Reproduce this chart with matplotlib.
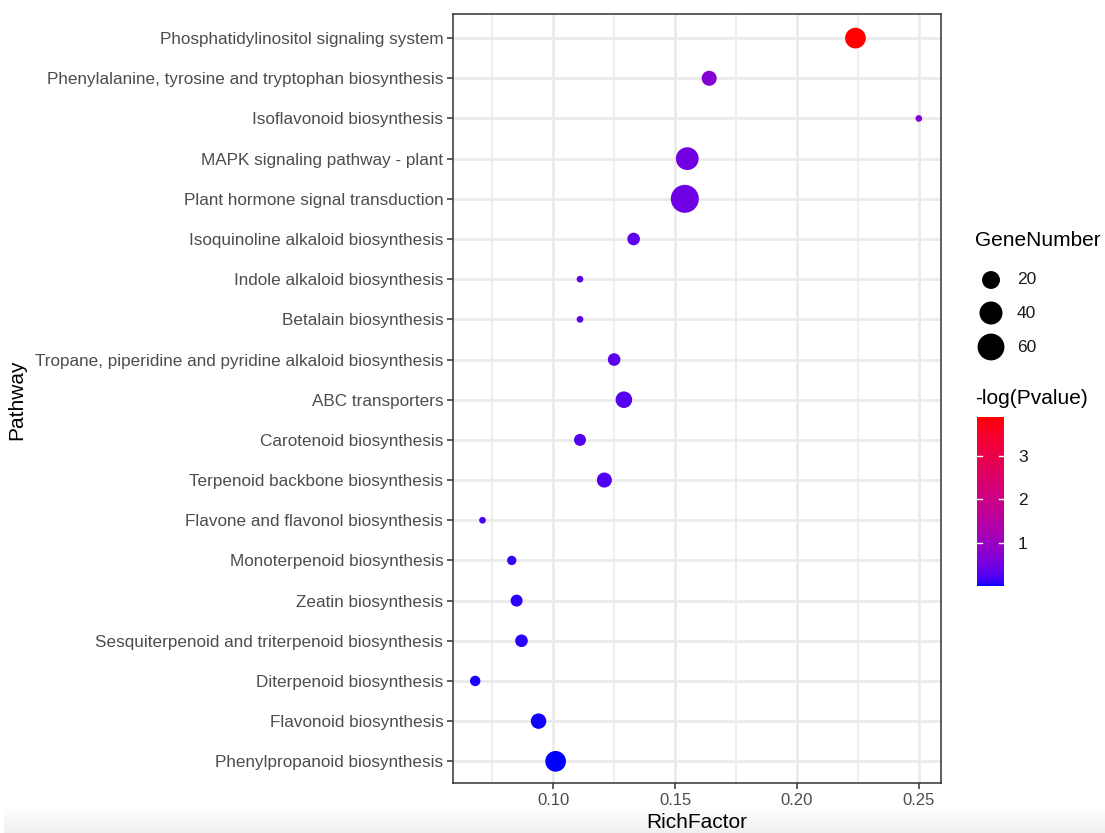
import numpy as np
import matplotlib
matplotlib.use("Agg")
import matplotlib.pyplot as plt
from matplotlib.colors import ListedColormap, Normalize
from matplotlib.cm import ScalarMappable

plt.rcParams['font.family'] = ['Liberation Sans', 'DejaVu Sans']

pathways = [
    "Phosphatidylinositol signaling system",
    "Phenylalanine, tyrosine and tryptophan biosynthesis",
    "Isoflavonoid biosynthesis",
    "MAPK signaling pathway - plant",
    "Plant hormone signal transduction",
    "Isoquinoline alkaloid biosynthesis",
    "Indole alkaloid biosynthesis",
    "Betalain biosynthesis",
    "Tropane, piperidine and pyridine alkaloid biosynthesis",
    "ABC transporters",
    "Carotenoid biosynthesis",
    "Terpenoid backbone biosynthesis",
    "Flavone and flavonol biosynthesis",
    "Monoterpenoid biosynthesis",
    "Zeatin biosynthesis",
    "Sesquiterpenoid and triterpenoid biosynthesis",
    "Diterpenoid biosynthesis",
    "Flavonoid biosynthesis",
    "Phenylpropanoid biosynthesis",
]
rich_factor = [0.224, 0.164, 0.250, 0.155, 0.154, 0.133, 0.111, 0.111, 0.125, 0.129,
               0.111, 0.121, 0.071, 0.083, 0.085, 0.087, 0.068, 0.094, 0.101]
gene_number = [30, 12, 2, 39, 67, 7, 2, 2, 7, 16, 6, 12, 2, 3, 6, 7, 4, 13, 30]
neg_log_p = [3.9, 0.70, 0.68, 0.47, 0.45, 0.35, 0.33, 0.33, 0.31, 0.27,
             0.27, 0.22, 0.16, 0.12, 0.09, 0.07, 0.05, 0.03, 0.005]
size_breaks = [20, 40, 60]
color_ticks = [1, 2, 3]
x_ticks = [0.10, 0.15, 0.20, 0.25]
x_minor = [0.075, 0.125, 0.175, 0.225]

DPI = 100
W, H = 1105, 833

# ---- Lab interpolation (like ggplot2 scale_colour_gradient) ----
def srgb_to_lab(rgb):
    rgb = np.asarray(rgb, float)
    lin = np.where(rgb <= 0.04045, rgb / 12.92, ((rgb + 0.055) / 1.055) ** 2.4)
    M = np.array([[0.4124, 0.3576, 0.1805], [0.2126, 0.7152, 0.0722], [0.0193, 0.1192, 0.9505]])
    xyz = M @ lin
    wp = np.array([0.95047, 1.0, 1.08883])
    t = xyz / wp
    f = np.where(t > (6/29)**3, np.cbrt(t), t / (3*(6/29)**2) + 4/29)
    return np.array([116*f[1]-16, 500*(f[0]-f[1]), 200*(f[1]-f[2])])

def lab_to_srgb(lab):
    L, a, b = lab
    fy = (L + 16) / 116
    fx = fy + a / 500
    fz = fy - b / 200
    def finv(f):
        return np.where(f > 6/29, f**3, 3*(6/29)**2*(f - 4/29))
    wp = np.array([0.95047, 1.0, 1.08883])
    xyz = np.array([finv(fx), finv(fy), finv(fz)]) * wp
    Minv = np.array([[3.2406, -1.5372, -0.4986], [-0.9689, 1.8758, 0.0415], [0.0557, -0.2040, 1.0570]])
    lin = Minv @ xyz
    lin = np.clip(lin, 0, 1)
    rgb = np.where(lin <= 0.0031308, 12.92*lin, 1.055*lin**(1/2.4) - 0.055)
    return np.clip(rgb, 0, 1)

lab_lo = srgb_to_lab([0, 0, 1])
lab_hi = srgb_to_lab([1, 0, 0])
cols = [lab_to_srgb(lab_lo + (lab_hi - lab_lo) * t) for t in np.linspace(0, 1, 256)]
cmap = ListedColormap(cols)
norm = Normalize(vmin=min(neg_log_p), vmax=max(neg_log_p))

# ---- size scale (area) ----
gmin, gmax = min(gene_number), max(gene_number)
def size_pts2(g):
    g = np.asarray(g, float)
    d_px = 6.7 + 21.3 * np.sqrt((g - gmin) / (gmax - gmin))
    d_pt = d_px * 72 / DPI
    return d_pt ** 2

fig = plt.figure(figsize=(W/DPI, H/DPI), dpi=DPI)

# light gradient band at bottom (screenshot artifact)
bg = fig.add_axes([4/W, 0, 1 - 4/W, 28/H], zorder=-10)
grad = np.linspace(0.94, 1.0, 50).reshape(-1, 1)
bg.imshow(np.dstack([grad, grad, grad]), aspect='auto', extent=[0, 1, 0, 1], origin='lower')
bg.axis('off')

ax = fig.add_axes([453/W, 1 - 783/H, (941-453)/W, (783-14)/H])
n = len(pathways)
ypos = np.arange(n)[::-1]
ax.scatter(rich_factor, ypos, s=size_pts2(gene_number), c=neg_log_p, cmap=cmap, norm=norm,
           linewidths=0, zorder=3)
ax.set_xlim(0.0589, 0.2591)
ax.set_ylim(-0.54, n - 0.4)
ax.set_yticks(ypos)
ax.set_yticklabels(pathways)
ax.set_xticks(x_ticks)
ax.set_xticklabels([f"{v:.2f}" for v in x_ticks])
ax.set_xticks(x_minor, minor=True)
ax.tick_params(axis='both', which='major', length=4, width=1.1, color='#333333',
               labelcolor='#4D4D4D', pad=3)
ax.tick_params(axis='y', which='major', labelsize=12.3)
ax.tick_params(axis='x', which='major', labelsize=12)
ax.tick_params(axis='x', which='minor', length=0)
ax.grid(which='major', color='#EBEBEB', linewidth=2.0, zorder=0)
ax.grid(which='minor', axis='x', color='#EBEBEB', linewidth=1.2, zorder=0)
ax.set_axisbelow(True)
for sp in ax.spines.values():
    sp.set_color('#333333')
    sp.set_linewidth(1.1)
ax.set_xlabel("RichFactor", fontsize=15, labelpad=4)
ax.set_ylabel("Pathway", fontsize=15)
ax.yaxis.set_label_coords((26 - 453) / (941 - 453), 0.5 - (400 - 398.5) / 769)

# ---- size legend ----
fig.text(975/W, 1 - 241/H, "GeneNumber", fontsize=15, va='center', ha='left')
lax = fig.add_axes([0, 0, 1, 1], zorder=5)
lax.set_xlim(0, W)
lax.set_ylim(H, 0)
lax.axis('off')
leg_y = [280, 313, 347]
lax.scatter([991]*3, leg_y, s=size_pts2(size_breaks), color='black', linewidths=0)
for yy, lab in zip(leg_y, size_breaks):
    lax.text(1017, yy, str(lab), fontsize=12.5, va='center', ha='left', color='#1A1A1A')

# ---- colour bar ----
fig.text(975/W, 1 - 398/H, "-log(Pvalue)", fontsize=15, va='center', ha='left')
cax = fig.add_axes([977/W, 1 - 586/H, (1004-977)/W, (586-417)/H])
cb = fig.colorbar(ScalarMappable(norm=norm, cmap=cmap), cax=cax)
cb.outline.set_visible(False)
cb.set_ticks(color_ticks)
cax.tick_params(length=0, labelsize=12.5, labelcolor='#1A1A1A', pad=10)
for t in color_ticks:
    cax.plot([0, 0.2], [t, t], color='white', lw=1, transform=cax.get_yaxis_transform())
    cax.plot([0.8, 1], [t, t], color='white', lw=1, transform=cax.get_yaxis_transform())

fig.savefig("out.png", dpi=DPI)
